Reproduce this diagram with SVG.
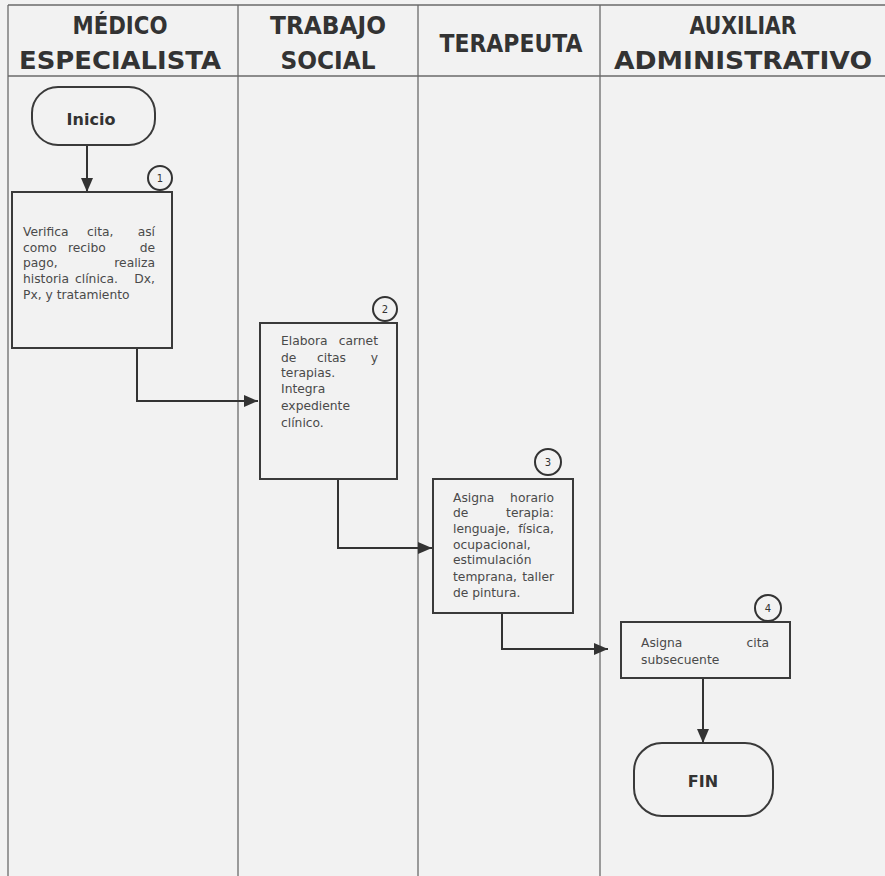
<svg xmlns="http://www.w3.org/2000/svg" width="885" height="876" viewBox="0 0 885 876">
<style>
.frame{stroke:#6a6a6a;stroke-width:1.3;fill:none}
.hdr{font-family:"DejaVu Sans","Liberation Sans",sans-serif;font-weight:bold;font-size:24px;fill:#333;text-anchor:middle}
.box{fill:none;stroke:#3a3a3a;stroke-width:2}
.term{fill:none;stroke:#3a3a3a;stroke-width:2}
.txt{font-family:"DejaVu Sans","Liberation Sans",sans-serif;font-size:12.3px;fill:#4a4a4a}
.end{text-anchor:end}
.num{font-family:"DejaVu Sans","Liberation Sans",sans-serif;font-size:10px;fill:#333;text-anchor:middle}
.circ{fill:#f2f2f2;stroke:#333;stroke-width:2}
.ttl{font-family:"DejaVu Sans","Liberation Sans",sans-serif;font-weight:bold;font-size:16px;fill:#333;text-anchor:middle}
.conn{fill:none;stroke:#333;stroke-width:2}
</style>
<defs>
<marker id="arr" viewBox="0 0 14 12" refX="14" refY="6" markerWidth="14" markerHeight="12" markerUnits="userSpaceOnUse" orient="auto">
<path d="M0,0 L14,6 L0,12 Z" fill="#333"/>
</marker>
</defs>
<rect x="0" y="0" width="885" height="876" fill="#f2f2f2"/>

<g id="lanes">
<line class="frame" x1="8" y1="5" x2="885" y2="5"/>
<line class="frame" x1="8" y1="76" x2="885" y2="76"/>
<line class="frame" x1="8" y1="5" x2="8" y2="876"/>
<line class="frame" x1="238" y1="5" x2="238" y2="876"/>
<line class="frame" x1="418" y1="5" x2="418" y2="876"/>
<line class="frame" x1="600" y1="5" x2="600" y2="876"/>
<text class="hdr" x="120" y="34" textLength="95" lengthAdjust="spacingAndGlyphs">MÉDICO</text>
<text class="hdr" x="120" y="69" textLength="202" lengthAdjust="spacingAndGlyphs">ESPECIALISTA</text>
<text class="hdr" x="328" y="34" textLength="116" lengthAdjust="spacingAndGlyphs">TRABAJO</text>
<text class="hdr" x="328" y="69" textLength="95" lengthAdjust="spacingAndGlyphs">SOCIAL</text>
<text class="hdr" x="511" y="52" textLength="143" lengthAdjust="spacingAndGlyphs">TERAPEUTA</text>
<text class="hdr" x="743" y="34" textLength="107" lengthAdjust="spacingAndGlyphs">AUXILIAR</text>
<text class="hdr" x="743" y="69" textLength="258" lengthAdjust="spacingAndGlyphs">ADMINISTRATIVO</text>
</g>

<g id="connectors">
<line class="conn" x1="87" y1="145" x2="87" y2="192" marker-end="url(#arr)"/>
<polyline class="conn" points="137,348 137,401 258,401" marker-end="url(#arr)"/>
<polyline class="conn" points="338,479 338,548 432,548" marker-end="url(#arr)"/>
<polyline class="conn" points="502,613 502,649 608,649" marker-end="url(#arr)"/>
<line class="conn" x1="703" y1="678" x2="703" y2="743" marker-end="url(#arr)"/>
</g>

<g id="inicio">
<rect class="term" x="32" y="87" width="123" height="58" rx="26" ry="26"/>
<text class="ttl" x="91" y="125">Inicio</text>
</g>

<g id="paso1">
<rect class="box" x="12" y="192" width="160" height="156"/>
<circle class="circ" cx="160" cy="178" r="12"/>
<text class="num" x="160" y="182">1</text>
<text class="txt" x="23" y="236">Verifica</text>
<text class="txt" x="87" y="236">cita,</text>
<text class="txt end" x="155" y="236">así</text>
<text class="txt" x="23" y="252">como</text>
<text class="txt" x="68" y="252">recibo</text>
<text class="txt end" x="155" y="252">de</text>
<text class="txt" x="23" y="267">pago,</text>
<text class="txt end" x="155" y="267">realiza</text>
<text class="txt" x="23" y="283">historia</text>
<text class="txt" x="75" y="283">clínica.</text>
<text class="txt end" x="155" y="283">Dx,</text>
<text class="txt" x="23" y="299">Px, y tratamiento</text>
</g>

<g id="paso2">
<rect class="box" x="260" y="323" width="137" height="156"/>
<circle class="circ" cx="385" cy="309" r="12"/>
<text class="num" x="385" y="313">2</text>
<text class="txt" x="281" y="345">Elabora</text>
<text class="txt end" x="378" y="345">carnet</text>
<text class="txt" x="281" y="362">de</text>
<text class="txt" x="317" y="362">citas</text>
<text class="txt end" x="378" y="362">y</text>
<text class="txt" x="281" y="377">terapias.</text>
<text class="txt" x="281" y="393">Integra</text>
<text class="txt" x="281" y="410">expediente</text>
<text class="txt" x="281" y="427">clínico.</text>
</g>

<g id="paso3">
<rect class="box" x="433" y="479" width="140" height="134"/>
<circle class="circ" cx="548" cy="462" r="13"/>
<text class="num" x="548" y="466">3</text>
<text class="txt" x="453" y="502">Asigna</text>
<text class="txt end" x="554" y="502">horario</text>
<text class="txt" x="453" y="517">de</text>
<text class="txt end" x="554" y="517">terapia:</text>
<text class="txt" x="453" y="533">lenguaje,</text>
<text class="txt end" x="554" y="533">física,</text>
<text class="txt" x="453" y="549">ocupacional,</text>
<text class="txt" x="453" y="564">estimulación</text>
<text class="txt" x="453" y="581">temprana,</text>
<text class="txt end" x="554" y="581">taller</text>
<text class="txt" x="453" y="597">de pintura.</text>
</g>

<g id="paso4">
<rect class="box" x="621" y="622" width="169" height="56"/>
<circle class="circ" cx="768" cy="608" r="13"/>
<text class="num" x="768" y="612">4</text>
<text class="txt" x="641" y="647">Asigna</text>
<text class="txt end" x="769" y="647">cita</text>
<text class="txt" x="641" y="664">subsecuente</text>
</g>

<g id="fin">
<rect class="term" x="634" y="743" width="139" height="73" rx="28" ry="28"/>
<text class="ttl" x="703" y="787" font-size="17">FIN</text>
</g>
</svg>
